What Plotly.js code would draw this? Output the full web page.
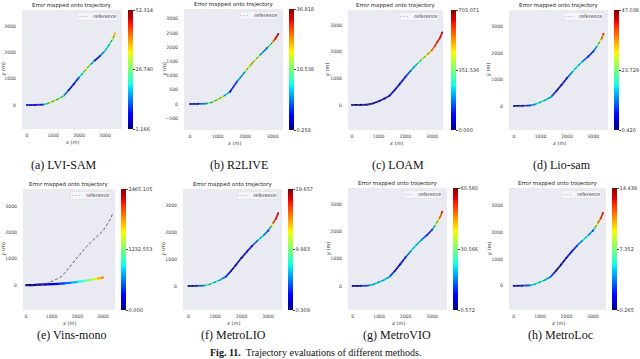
<!DOCTYPE html>
<html>
<head>
<meta charset="utf-8">
<script src="https://cdn.plot.ly/plotly-3.0.1.min.js"></script>
<style>
  html, body { margin: 0; padding: 0; background: #fff; }
  #chart { width: 640px; height: 359px; }
</style>
</head>
<body>
<div id="chart"></div>
<script>
// reference trajectory (m), shared by most runs
const refX = [0, 300, 600, 800, 1000, 1200, 1400, 1600, 1800, 2000, 2200, 2400, 2600, 2800, 3000, 3100, 3200, 3300, 3380];
const refY = [0, 5, 15, 60, 140, 230, 340, 560, 800, 1050, 1280, 1500, 1690, 1860, 2060, 2200, 2370, 2520, 2720];

// R2LIVE run uses a shorter reference
const refBX = [0, 300, 600, 800, 1000, 1200, 1455, 1700, 2000, 2250, 2545, 2790, 3000, 3100, 3210];
const refBY = [0, 5, 15, 60, 150, 260, 433, 780, 1137, 1430, 1725, 1960, 2170, 2300, 2465];

// Vins-mono estimate drifts away from the reference
const estEX = [0, 250, 500, 750, 1000, 1250, 1500, 1750, 2000, 2250, 2500, 2750, 3000];
const estEY = [0, 5, 20, 30, 40, 50, 70, 95, 130, 160, 200, 240, 290];

// error along each trajectory
const errA = [6.3, 7.3, 8.8, 29.3, 31.9, 26.7, 24.2, 3.7, 5.3, 14.0, 29.3, 31.9, 3.7, 8.8, 21.6, 19.1, 24.2, 29.3, 39.5];
const errB = [2.1, 3.9, 14.9, 18.5, 20.4, 22.2, 3.9, 7.6, 14.9, 29.5, 13.1, 7.6, 25.8, 33.2, 35.0];
const errC = [7, 14, 21, 28, 35, 42, 49, 56, 70, 105, 176, 253, 352, 443, 534, 577, 612, 633, 654];
const errD = [2.75, 2.75, 9.7, 16.7, 19.1, 16.7, 14.4, 2.75, 2.75, 7.4, 16.7, 19.1, 14.4, 7.4, 9.7, 14.4, 26.1, 33.1, 40.0];
const errE = [0, 25, 74, 148, 247, 345, 493, 641, 813, 1035, 1282, 1578, 1972];
const errF = [0.89, 1.28, 8.05, 9.02, 8.05, 7.08, 4.18, 0.89, 0.89, 1.28, 1.86, 3.21, 6.11, 8.05, 2.24, 9.98, 15.8, 17.7, 18.1];
const errG = [2.4, 3.6, 18.6, 21.6, 21.6, 21.6, 18.6, 3.6, 3.6, 9.6, 21.6, 21.6, 18.6, 9.6, 9.6, 30.6, 36.6, 45.6, 53.4];
const errH = [0.69, 0.97, 4.52, 5.93, 5.93, 5.23, 3.81, 0.97, 0.69, 0.97, 1.68, 3.10, 5.23, 5.93, 2.39, 8.06, 10.19, 12.31, 13.02];

// colorbar limits
const rangeA = [1.166, 52.314];
const rangeB = [0.258, 36.818];
const rangeC = [0.000, 703.071];
const rangeD = [0.420, 47.038];
const rangeE = [0.000, 2465.105];
const rangeF = [0.309, 19.657];
const rangeG = [0.572, 60.560];
const rangeH = [0.265, 14.439];

const captions = ["(a) LVI-SAM", "(b) R2LIVE", "(c) LOAM", "(d) Lio-sam",
                  "(e) Vins-mono", "(f) MetroLIO", "(g) MetroVIO", "(h) MetroLoc"];

// matplotlib jet
const jetStops = [[0, [0, 0, 128]], [0.11, [0, 0, 255]], [0.125, [0, 0, 255]], [0.35, [0, 229, 247]],
  [0.375, [20, 255, 226]], [0.5, [123, 255, 123]], [0.64, [238, 255, 8]], [0.66, [255, 236, 0]],
  [0.89, [255, 19, 0]], [0.91, [232, 0, 0]], [1, [128, 0, 0]]];
const jetScale = jetStops.map(s => [s[0], `rgb(${s[1].join(",")})`]);

function jet(t) {
  t = Math.max(0, Math.min(1, t));
  for (let i = 1; i < jetStops.length; i++) {
    const [t1, c1] = jetStops[i];
    const [t0, c0] = jetStops[i - 1];
    if (t <= t1) {
      const f = t1 === t0 ? 0 : (t - t0) / (t1 - t0);
      const c = c0.map((v, j) => Math.round(v + (c1[j] - v) * f));
      return `rgb(${c.join(",")})`;
    }
  }
  return jetScale[jetScale.length - 1][1];
}

const W = 640, H = 359;
const px = v => v / W;
const py = v => 1 - v / H;

// box = [left, right, top, bottom] in px
const panels = [
  { x: refX, y: refY, rx: refX, ry: refY, err: errA, range: rangeA, box: [22, 122, 10, 129], cb: 128, xr: [-190, 3650], yr: [-910, 3610], dty: 1000, cap: [64, 165] },
  { x: refBX, y: refBY, rx: refBX, ry: refBY, err: errB, range: rangeB, box: [184, 283, 9, 130], cb: 289, xr: [-220, 3380], yr: [-915, 3345], dty: 500, cap: [239, 165] },
  { x: refX, y: refY, rx: refX, ry: refY, err: errC, range: rangeC, box: [348, 443, 10, 130], cb: 451, xr: [-150, 3410], yr: [-940, 3560], dty: 1000, cap: [398, 165] },
  { x: refX, y: refY, rx: refX, ry: refY, err: errD, range: rangeD, box: [509, 608, 10, 130], cb: 614, xr: [-190, 3550], yr: [-910, 3620], dty: 1000, cap: [562, 165] },
  { x: estEX, y: estEY, rx: refX, ry: refY, err: errE, range: rangeE, box: [23, 115, 189, 310], cb: 121, xr: [-117, 3475], yr: [-940, 3650], dty: 1000, cap: [71, 335] },
  { x: refX, y: refY, rx: refX, ry: refY, err: errF, range: rangeF, box: [183, 282, 189, 310], cb: 288, xr: [-211, 3525], yr: [-899, 3622], dty: 1000, cap: [233, 335] },
  { x: refX, y: refY, rx: refX, ry: refY, err: errG, range: rangeG, box: [348, 447, 188, 310], cb: 453, xr: [-174, 3562], yr: [-882, 3592], dty: 1000, cap: [397, 335] },
  { x: refX, y: refY, rx: refX, ry: refY, err: errH, range: rangeH, box: [509, 606, 188, 310], cb: 612, xr: [-180, 3500], yr: [-903, 3658], dty: 1000, cap: [560, 335] },
];

const font = "DejaVu Sans, sans-serif";
const serif = "Liberation Serif, Times New Roman, serif";
const data = [];
const annotations = [];
const layout = {
  width: W, height: H,
  margin: { l: 0, r: 0, t: 0, b: 0 },
  paper_bgcolor: "#fff",
  plot_bgcolor: "#eaeaf2",
  showlegend: false,
  font: { family: font, size: 5, color: "#333" },
};

panels.forEach((p, i) => {
  const k = i + 1;
  const xa = k === 1 ? "x" : "x" + k;
  const ya = k === 1 ? "y" : "y" + k;
  const [l, r, t, b] = p.box;
  const [lo, hi] = p.range;

  // trajectory coloured by error
  for (let j = 0; j < p.x.length - 1; j++) {
    const e = (p.err[j] + p.err[j + 1]) / 2;
    data.push({
      x: [p.x[j], p.x[j + 1]], y: [p.y[j], p.y[j + 1]],
      xaxis: xa, yaxis: ya, mode: "lines", hoverinfo: "skip",
      line: { color: jet((e - lo) / (hi - lo)), width: k === 5 ? 2.2 : 1.7 },
    });
  }

  // colorbar carrier
  data.push({
    x: p.x, y: p.y, xaxis: xa, yaxis: ya, mode: "markers", hoverinfo: "skip",
    marker: {
      size: 2, color: p.err, colorscale: jetScale, cmin: lo, cmax: hi, showscale: true,
      colorbar: {
        x: px(p.cb), xanchor: "left", xpad: 0,
        y: py((t + b) / 2), yanchor: "middle", ypad: 0,
        len: b - t, lenmode: "pixels", thickness: 5, outlinewidth: 0,
        tickvals: [lo, (lo + hi) / 2, hi],
        ticktext: [lo.toFixed(3), ((lo + hi) / 2).toFixed(3), hi.toFixed(3)],
        ticks: "outside", ticklen: 2, tickcolor: "#444",
        tickfont: { family: font, size: 5, color: "#333" },
      },
    },
  });

  // reference
  data.push({
    x: p.rx, y: p.ry, xaxis: xa, yaxis: ya, mode: "lines", hoverinfo: "skip",
    line: { color: "#555", width: 0.9, dash: "3px,2px" },
  });

  const axis = {
    showgrid: false, zeroline: false, showline: false, ticks: "",
    fixedrange: true, tickfont: { family: font, size: 4.6, color: "#444" },
  };
  layout[k === 1 ? "xaxis" : "xaxis" + k] = Object.assign({}, axis, {
    domain: [px(l), px(r)], anchor: ya, range: p.xr, dtick: 1000, tick0: 0,
    ticklabelstandoff: 2,
  });
  layout[k === 1 ? "yaxis" : "yaxis" + k] = Object.assign({}, axis, {
    domain: [py(b), py(t)], anchor: xa, range: p.yr, dtick: p.dty, tick0: 0,
    ticklabelstandoff: 5,
  });

  // axis titles
  annotations.push({
    xref: "paper", yref: "paper", x: px((l + r) / 2), y: py(b + 13),
    xanchor: "center", yanchor: "middle", showarrow: false,
    text: "<i>x</i> (m)", font: { family: font, size: 5, color: "#333" },
  });
  annotations.push({
    xref: "paper", yref: "paper", x: px(Math.max(l - 20, 3)), y: py((t + b) / 2),
    xanchor: "center", yanchor: "middle", showarrow: false, textangle: -90,
    text: "<i>y</i> (m)", font: { family: font, size: 5, color: "#333" },
  });

  annotations.push({
    xref: "paper", yref: "paper", x: px((l + r) / 2), y: py(t - 5),
    xanchor: "center", yanchor: "middle", showarrow: false,
    text: "Error mapped onto trajectory", font: { family: font, size: 5.4, color: "#222" },
  });
  annotations.push({
    xref: "paper", yref: "paper", x: px(r - 4), y: py(t + 2),
    xanchor: "right", yanchor: "top", showarrow: false,
    text: "<span style='color:#555'>- - -</span>    reference",
    font: { family: font, size: 4.8, color: "#333" },
    bgcolor: "rgba(246,246,250,0.85)", bordercolor: "#d8d8e2", borderwidth: 0.5, borderpad: 1.5,
  });
  annotations.push({
    xref: "paper", yref: "paper", x: px(p.cap[0]), y: py(p.cap[1]),
    xanchor: "center", yanchor: "middle", showarrow: false,
    text: captions[i], font: { family: serif, size: 12, color: "#111" },
  });
});

annotations.push({
  xref: "paper", yref: "paper", x: px(315), y: py(352),
  xanchor: "center", yanchor: "middle", showarrow: false,
  text: "<b>Fig. 11.</b>  Trajectory evaluations of different methods.",
  font: { family: serif, size: 10, color: "#111" },
});
layout.annotations = annotations;

Plotly.newPlot("chart", data, layout, { staticPlot: true });
</script>
</body>
</html>
